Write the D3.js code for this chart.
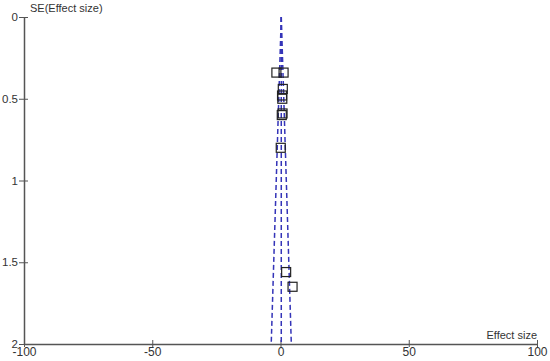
<!DOCTYPE html>
<html>
<head>
<meta charset="utf-8">
<script src="https://cdn.jsdelivr.net/npm/d3@7"></script>
<style>
  body { margin: 0; background: #fff; }
  text { font-family: "Liberation Sans", Arial, sans-serif; font-size: 11px; fill: #333; }
</style>
</head>
<body>
<div id="container"></div>
<script>
// CONSTANTS AND GLOBALS
const width = 550,
  height = 361,
  margin = { top: 17, bottom: 17, left: 24, right: 13 };

// DATA
const effectSize = [-1.6, 1.2, 0.9, 0.6, 0.7, 0.8, 0.5, 0.1, 2.2, 4.7];
const seEffect = [0.34, 0.34, 0.44, 0.48, 0.50, 0.59, 0.60, 0.80, 1.56, 1.65];
const pooled = 0.3;
const xTicks = [-100, -50, 0, 50, 100];
const yTicks = [0, 0.5, 1, 1.5, 2];

// SCALES
const xScale = d3.scaleLinear()
  .domain([-100, 100])
  .range([margin.left, width - margin.right]);

const yScale = d3.scaleLinear()
  .domain([0, 2])
  .range([margin.top, height - margin.bottom]);

// SVG
const svg = d3.select("#container")
  .append("svg")
  .attr("width", width)
  .attr("height", height);

// AXES
const xAxis = d3.axisBottom(xScale)
  .tickValues(xTicks)
  .tickSize(0)
  .tickPadding(3)
  .tickFormat(d => String(d)); // plain hyphen like the original

const xAxisGroup = svg.append("g")
  .attr("transform", `translate(0, ${yScale(2)})`)
  .call(xAxis);
xAxisGroup.select(".domain").attr("stroke", "#555").attr("stroke-width", 1.5);
xAxisGroup.selectAll(".tick line").remove();
xAxisGroup.selectAll(".tick").append("line")
  .attr("y1", -4).attr("y2", 3)
  .attr("stroke", "#555");
xAxisGroup.selectAll(".tick text")
  .attr("fill", "#333")
  .style("font-family", "'Liberation Sans', Arial, sans-serif")
  .style("font-size", "12px");

const yAxis = d3.axisLeft(yScale)
  .tickValues(yTicks)
  .tickSize(0)
  .tickPadding(6)
  .tickFormat(d => String(d));

const yAxisGroup = svg.append("g")
  .attr("transform", `translate(${xScale(-100)}, 0)`)
  .call(yAxis);
yAxisGroup.select(".domain").attr("stroke", "#555").attr("stroke-width", 1.5);
yAxisGroup.selectAll(".tick line").remove();
yAxisGroup.selectAll(".tick").append("line")
  .attr("x1", -5).attr("x2", 4)
  .attr("stroke", "#555");
yAxisGroup.selectAll(".tick text")
  .attr("fill", "#333")
  .style("font-family", "'Liberation Sans', Arial, sans-serif")
  .style("font-size", "11.5px");

// AXIS TITLES
svg.append("text")
  .attr("x", xScale(-100) + 6)
  .attr("y", 12)
  .text("SE(Effect size)");

svg.append("text")
  .attr("x", xScale(100))
  .attr("y", yScale(2) - 5)
  .attr("text-anchor", "end")
  .text("Effect size");

// FUNNEL LINES
const funnel = [
  [[pooled, 0], [pooled, 2]],
  [[pooled, 0], [pooled - 1.96 * 2, 2]],
  [[pooled, 0], [pooled + 1.96 * 2, 2]]
];

const line = d3.line()
  .x(d => xScale(d[0]))
  .y(d => yScale(d[1]));

svg.selectAll(".funnel")
  .data(funnel)
  .join("path")
  .attr("class", "funnel")
  .attr("fill", "none")
  .attr("stroke", "#3434b8")
  .attr("stroke-width", 1.5)
  .attr("stroke-dasharray", "5,3")
  .attr("d", line);

// POINTS
const pts = effectSize.map((e, i) => ({ e, se: seEffect[i] }));
const s = 9;

svg.selectAll(".pt")
  .data(pts)
  .join("rect")
  .attr("class", "pt")
  .attr("x", d => xScale(d.e) - s / 2)
  .attr("y", d => yScale(d.se) - s / 2)
  .attr("width", s)
  .attr("height", s)
  .attr("fill", "none")
  .attr("stroke", "#222")
  .attr("stroke-width", 1.2);
</script>
</body>
</html>
